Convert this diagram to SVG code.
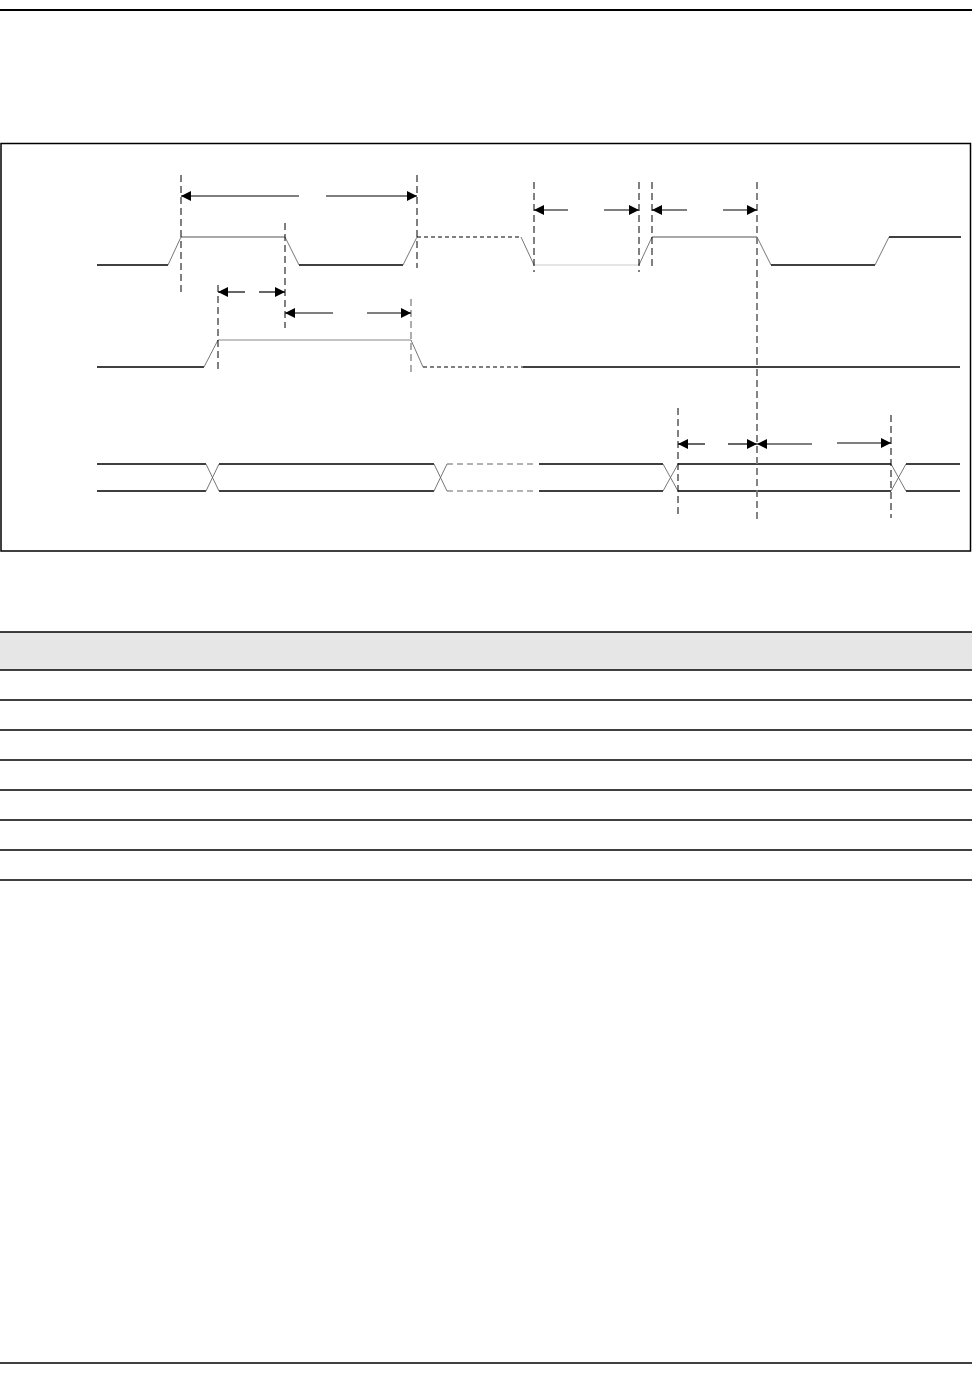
<svg xmlns="http://www.w3.org/2000/svg" width="972" height="1380" viewBox="0 0 972 1380">
<style>
.sig{stroke:#000;stroke-width:1.3;fill:none}
.hi{stroke:#555;stroke-width:1.2;fill:none}
.hi2{stroke:#888;stroke-width:1.2;fill:none}
.tr{stroke:#666;stroke-width:0.9;fill:none}
.dsh{stroke:#000;stroke-width:1;fill:none;stroke-dasharray:4 3}
.dshg{stroke:#666;stroke-width:1.2;fill:none;stroke-dasharray:6 4}
.vd{stroke:#000;stroke-width:1;stroke-dasharray:7 4}
.vdg{stroke:#777;stroke-width:1.8;stroke-dasharray:7 4}
.arr{stroke:#000;stroke-width:1.2;marker-end:url(#ah)}
.rule{stroke:#000;stroke-width:1.3}
</style>
<defs>
<marker id="ah" viewBox="0 0 10 10" refX="10" refY="5" markerWidth="10" markerHeight="10" markerUnits="userSpaceOnUse" orient="auto">
<path d="M0,0 L10,5 L0,10 z" fill="#000"/>
</marker>
</defs>
<rect width="972" height="1380" fill="#fff"/>
<line x1="0" y1="10" x2="972" y2="10" stroke="#000" stroke-width="2"/>
<line x1="0" y1="1363" x2="972" y2="1363" stroke="#000" stroke-width="1.5"/>
<rect id="frame" x="1" y="143.5" width="969.5" height="407.5" fill="none" stroke="#000" stroke-width="1.5"/>

<g id="signal1">
<path class="sig" d="M97,265 H168"/>
<path class="tr" d="M168,265 L181,237"/>
<path class="hi" d="M181,237 H285"/>
<path class="tr" d="M285,237 L299,265"/>
<path class="sig" d="M299,265 H403"/>
<path class="tr" d="M403,265 L417,237"/>
<path class="dsh" d="M417,237 H521"/>
<path class="tr" d="M521,237 L534,265"/>
<path stroke="#ddd" stroke-width="1.6" fill="none" d="M534,265 H639"/>
<path class="tr" d="M639,265 L652,237"/>
<path class="hi" d="M652,237 H757"/>
<path class="tr" d="M757,237 L771,265"/>
<path class="sig" d="M771,265 H875"/>
<path class="tr" d="M875,265 L889,237"/>
<path class="sig" d="M889,237 H961"/>
</g>

<g id="signal2">
<path class="sig" d="M97,367 H204"/>
<path class="tr" d="M204,367 L218,340"/>
<path class="hi2" d="M218,340 H411"/>
<path class="tr" d="M411,340 L423,367"/>
<path class="dsh" d="M423,367 H523"/>
<path class="sig" d="M523,367 H960"/>
</g>

<g id="bus">
<path class="sig" d="M97,464 H206 M97,491 H206"/>
<path class="tr" d="M206,464 L219,491 M206,491 L219,464"/>
<path class="sig" d="M219,464 H434 M219,491 H434"/>
<path class="tr" d="M434,491 L447,464 M434,464 L447,491"/>
<path class="dshg" d="M447,464 H537 M447,491 H537"/>
<path class="sig" d="M539,464 H663 M539,491 H663"/>
<path class="tr" d="M663,464 L678,491 M663,491 L678,464"/>
<path class="sig" d="M678,464 H891 M678,491 H891"/>
<path class="tr" d="M891,464 L906,491 M891,491 L906,464"/>
<path class="sig" d="M906,464 H960 M906,491 H960"/>
</g>

<g id="markers">
<line class="vd" x1="181" y1="175" x2="181" y2="292"/>
<line class="vd" x1="417" y1="175" x2="417" y2="268"/>
<line class="vd" x1="285" y1="223" x2="285" y2="328"/>
<line class="vd" x1="218" y1="285" x2="218" y2="373"/>
<line class="vdg" x1="411" y1="299" x2="411" y2="373" style="stroke-width:1.2"/>
<line class="vd" x1="534" y1="182" x2="534" y2="272"/>
<line class="vd" x1="639" y1="182" x2="639" y2="272"/>
<line class="vd" x1="652" y1="182" x2="652" y2="266"/>
<line class="vdg" x1="757" y1="182" x2="757" y2="519"/>
<line class="vd" x1="678" y1="408" x2="678" y2="515"/>
<line class="vd" x1="891" y1="415" x2="891" y2="518"/>
</g>

<g id="connectors">
<line class="arr" x1="299" y1="196" x2="181" y2="196"/>
<line class="arr" x1="326" y1="196" x2="417" y2="196"/>
<line class="arr" x1="245" y1="292" x2="218" y2="292"/>
<line class="arr" x1="259" y1="292" x2="285" y2="292"/>
<line class="arr" x1="333" y1="313" x2="285" y2="313"/>
<line class="arr" x1="367" y1="313" x2="411" y2="313"/>
<line class="arr" x1="568" y1="210" x2="534" y2="210"/>
<line class="arr" x1="604" y1="210" x2="639" y2="210"/>
<line class="arr" x1="687" y1="210" x2="652" y2="210"/>
<line class="arr" x1="723" y1="210" x2="757" y2="210"/>
<line class="arr" x1="705" y1="444" x2="678" y2="444"/>
<line class="arr" x1="728" y1="444" x2="757" y2="444"/>
<line class="arr" x1="812" y1="444" x2="757" y2="444"/>
<line class="arr" x1="837" y1="443" x2="891" y2="443"/>
</g>

<g id="table">
<rect x="0" y="632" width="972" height="38" fill="#e6e6e6"/>
<line class="rule" x1="0" y1="632" x2="972" y2="632"/>
<line class="rule" x1="0" y1="670" x2="972" y2="670"/>
<line class="rule" x1="0" y1="700" x2="972" y2="700"/>
<line class="rule" x1="0" y1="730" x2="972" y2="730"/>
<line class="rule" x1="0" y1="760" x2="972" y2="760"/>
<line class="rule" x1="0" y1="790" x2="972" y2="790"/>
<line class="rule" x1="0" y1="820" x2="972" y2="820"/>
<line class="rule" x1="0" y1="850" x2="972" y2="850"/>
<line class="rule" x1="0" y1="880" x2="972" y2="880"/>
</g>
</svg>
